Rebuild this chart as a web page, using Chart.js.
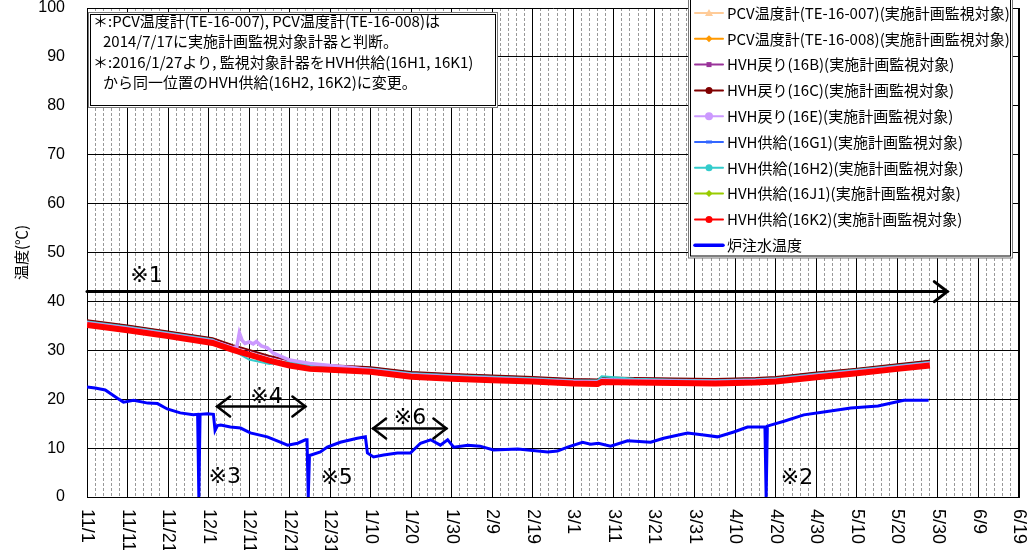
<!DOCTYPE html>
<html>
<head>
<meta charset="utf-8">
<title>温度</title>
<script src="https://cdn.jsdelivr.net/npm/chart.js"></script>
<style>
html, body { margin: 0; padding: 0; background: #fff; overflow: hidden; }
#box { width: 1033px; height: 550px; }
</style>
</head>
<body>
<div id="box"><canvas id="tempChart" width="1033" height="550"></canvas></div>
<script>
// x axis : days counted from 11/1
const tickDays = [0, 10, 20, 30, 40, 50, 60, 70, 80, 90, 100, 110, 120, 130, 140, 150, 160, 170, 180, 190, 200, 210, 220, 230];
const tickLabels = ['11/1', '11/11', '11/21', '12/1', '12/11', '12/21', '12/31', '1/10', '1/20', '1/30', '2/9', '2/19',
  '3/1', '3/11', '3/21', '3/31', '4/10', '4/20', '4/30', '5/10', '5/20', '5/30', '6/9', '6/19'];

// HVH / PCV temperatures
const days = [0, 10, 20, 31, 36, 40, 45, 50, 55, 60, 70, 80, 90, 100, 110, 120, 126, 127, 135, 145, 155, 165, 170, 180, 190, 200, 208];
const pcv007 = [35.3, 34.2, 33.0, 31.6, 30.2, 29.2, 28.0, 27.0, 26.3, 26.1, 25.7, 24.7, 24.3, 24.0, 23.7, 23.3, 23.2, 23.6, 23.5, 23.4, 23.3, 23.5, 23.7, 24.6, 25.4, 26.3, 27.0];
const pcv008 = [35.4, 34.3, 33.1, 31.7, 30.3, 29.3, 28.1, 27.1, 26.4, 26.2, 25.8, 24.8, 24.4, 24.1, 23.8, 23.4, 23.3, 23.7, 23.6, 23.5, 23.4, 23.6, 23.8, 24.7, 25.5, 26.4, 27.1];
const hvh16B = [36.1, 35.0, 33.8, 32.4, 31.0, 30.0, 28.8, 27.8, 27.1, 26.9, 26.5, 25.5, 25.1, 24.8, 24.5, 24.1, 24.0, 24.4, 24.3, 24.2, 24.1, 24.3, 24.5, 25.4, 26.2, 27.1, 27.8];
const hvh16C = [36.2, 35.1, 33.9, 32.5, 31.1, 30.1, 28.9, 27.9, 27.2, 27.0, 26.6, 25.6, 25.2, 24.9, 24.6, 24.2, 24.1, 24.5, 24.4, 24.3, 24.2, 24.4, 24.6, 25.5, 26.3, 27.2, 27.9];
const hvh16G1 = [34.9, 33.8, 32.6, 31.2, 29.8, 28.8, 27.6, 26.6, 25.9, 25.7, 25.3, 24.3, 23.9, 23.6, 23.3, 22.9, 22.8, 23.2, 23.1, 23.0, 22.9, 23.1, 23.3, 24.2, 25.0, 25.9, 26.6];
const hvh16H2 = [35.9, 34.8, 33.6, 32.2, 30.0, 28.1, 27.2, 27.6, 26.9, 26.7, 26.3, 25.3, 24.9, 24.6, 24.3, 23.9, 23.8, 24.7, 24.2, 24.0, 23.9, 24.1, 24.3, 25.2, 26.0, 26.9, 27.6];
const hvh16J1 = [35.1, 34.0, 32.8, 31.4, 30.0, 29.0, 27.8, 26.8, 26.1, 25.9, 25.5, 24.5, 24.1, 23.8, 23.5, 23.1, 23.0, 23.4, 23.3, 23.2, 23.1, 23.3, 23.5, 24.4, 25.2, 26.1, 26.8];
const hvh16K2 = [35.2, 34.1, 32.9, 31.5, 30.1, 29.1, 27.9, 26.9, 26.2, 26.0, 25.6, 24.6, 24.2, 23.9, 23.6, 23.2, 23.1, 23.5, 23.4, 23.3, 23.2, 23.4, 23.6, 24.5, 25.3, 26.2, 26.9];

// 16E has its own sampling (spiky around 12/8)
const daysE = [0, 10, 20, 31, 36, 37, 37.6, 38.3, 39, 40, 41, 41.8, 43, 44.5, 46, 50, 55, 60, 65, 70, 80, 90, 100, 110, 120, 126, 127, 135, 145, 155, 165, 170, 180, 190, 200, 208];
const hvh16E = [35.6, 34.5, 33.3, 31.9, 30.5, 30.8, 33.6, 32.0, 31.4, 31.7, 31.3, 31.8, 30.9, 30.5, 29.4, 28.0, 27.3, 26.9, 26.5, 26.0, 25.0, 24.6, 24.3, 24.0, 23.6, 23.5, 23.9, 23.8, 23.7, 23.6, 23.8, 24.0, 24.9, 25.7, 26.6, 27.3];

// 炉注水温度
const waterDays = [0, 2, 4.5, 7.5, 9, 11.5, 15, 17.4, 19.8, 23, 26.2, 27.3, 27.6, 27.9, 29.7, 31.2, 31.6, 32.2, 33, 35.4,
  37.9, 40.3, 44.5, 47.7, 49.5, 52, 53.9, 54.3, 54.6, 54.9, 55.3, 57.6, 59.3, 62.5, 66.7, 68.7, 69.2, 70.7, 73.2, 76.6,
  79.8, 82.3, 84.8, 87.2, 89, 90.5, 94, 97, 100.3, 106.3, 113.7, 116.1, 118.6, 122.3, 124.3, 126.2, 129.2, 133.4, 139.1, 142.3,
  148.2, 152.2, 155.6, 159.6, 163, 167, 167.3, 167.6, 167.9, 168.7, 172, 176.9, 181.8, 188.5, 195.2, 201.6, 207.7];
const waterTemp = [22.5, 22.3, 21.9, 20.2, 19.4, 19.8, 19.2, 19.1, 18.0, 17.2, 16.8, 16.9, 0, 16.9, 17.0, 16.9, 13.6, 14.6, 14.7, 14.3,
  14.1, 13.1, 12.3, 11.2, 10.6, 11.0, 11.7, 11.7, 0, 8.5, 8.6, 9.2, 10.2, 11.2, 12.0, 12.3, 9.0, 8.2, 8.6, 9.0,
  9.0, 11.0, 11.7, 10.6, 11.7, 10.2, 10.6, 10.4, 9.6, 9.8, 9.2, 9.4, 10.2, 11.2, 10.8, 11.0, 10.4, 11.5, 11.2, 12.0,
  13.1, 12.7, 12.3, 13.3, 14.3, 14.3, 14.3, 0, 14.5, 14.7, 15.5, 16.8, 17.4, 18.2, 18.6, 19.8, 19.8];

// notes and arrows on the plot
const marks = [
  { text: '※1', day: 10.7, value: 45.2 },
  { text: '※2', day: 171.2, value: 3.9 },
  { text: '※3', day: 30, value: 4.1 },
  { text: '※4', day: 40.3, value: 20.4 },
  { text: '※5', day: 57.6, value: 3.9 },
  { text: '※6', day: 75.7, value: 16.2 }
];
const arrows = [
  { from: 0, to: 212.3, value: 42, both: false },
  { from: 32.1, to: 53.9, value: 18.5, both: true },
  { from: 70.6, to: 88.7, value: 14.0, both: true }
];
const noteLines = [
  '＊:PCV温度計(TE-16-007), PCV温度計(TE-16-008)は',
  '2014/7/17に実施計画監視対象計器と判断。',
  '＊:2016/1/27より, 監視対象計器をHVH供給(16H1, 16K1)',
  'から同一位置のHVH供給(16H2, 16K2)に変更。'
];

const CJK = '"Noto Sans CJK JP", sans-serif';

function pts(xs, ys) {
  return xs.map((d, i) => ({ x: d, y: ys[i] }));
}

function line(label, xs, ys, color, width, order, marker) {
  return {
    label: label,
    data: pts(xs, ys),
    borderColor: color,
    backgroundColor: color,
    borderWidth: width,
    pointRadius: 0,
    tension: 0,
    fill: false,
    order: order,
    marker: marker
  };
}

const datasets = [
  line('PCV温度計(TE-16-007)(実施計画監視対象)', days, pcv007, '#FFCC99', 1.5, 9, 'triangle'),
  line('PCV温度計(TE-16-008)(実施計画監視対象)', days, pcv008, '#FF9900', 1.5, 8, 'diamond'),
  line('HVH戻り(16B)(実施計画監視対象)', days, hvh16B, '#993399', 1.5, 5, 'square'),
  line('HVH戻り(16C)(実施計画監視対象)', days, hvh16C, '#800000', 1.5, 4, 'circle'),
  line('HVH戻り(16E)(実施計画監視対象)', daysE, hvh16E, '#CC99FF', 3.5, 2, 'bigcircle'),
  line('HVH供給(16G1)(実施計画監視対象)', days, hvh16G1, '#3366FF', 1.5, 7, 'dash'),
  line('HVH供給(16H2)(実施計画監視対象)', days, hvh16H2, '#33CCCC', 2, 3, 'circle'),
  line('HVH供給(16J1)(実施計画監視対象)', days, hvh16J1, '#99CC00', 1.5, 6, 'diamond'),
  line('HVH供給(16K2)(実施計画監視対象)', days, hvh16K2, '#FF0000', 6, 1, 'circle'),
  line('炉注水温度', waterDays, waterTemp, '#0000FF', 3, 0, null)
];

function drawMarker(ctx, style, x, y, color) {
  ctx.fillStyle = color;
  ctx.beginPath();
  if (style === 'triangle') {
    ctx.moveTo(x, y - 4); ctx.lineTo(x + 4, y + 3); ctx.lineTo(x - 4, y + 3); ctx.closePath();
  } else if (style === 'diamond') {
    ctx.moveTo(x, y - 3.5); ctx.lineTo(x + 3.5, y); ctx.lineTo(x, y + 3.5); ctx.lineTo(x - 3.5, y); ctx.closePath();
  } else if (style === 'square') {
    ctx.rect(x - 2.5, y - 2.5, 5, 5);
  } else if (style === 'circle') {
    ctx.arc(x, y, 3.5, 0, Math.PI * 2);
  } else if (style === 'bigcircle') {
    ctx.arc(x, y, 4, 0, Math.PI * 2);
  } else if (style === 'dash') {
    ctx.rect(x - 3, y - 1.5, 6, 3);
  }
  ctx.fill();
}

function drawArrowHead(ctx, x, y, dir) {
  ctx.beginPath();
  ctx.moveTo(x - dir * 13, y - 10);
  ctx.lineTo(x, y);
  ctx.lineTo(x - dir * 13, y + 10);
  ctx.stroke();
}

const overlay = {
  id: 'overlay',
  afterDraw(chart) {
    const ctx = chart.ctx;
    const xs = chart.scales.x;
    const ys = chart.scales.y;
    ctx.save();

    // x tick labels, turned clockwise
    ctx.fillStyle = '#000';
    ctx.font = '18px "Liberation Sans", Arial, sans-serif';
    ctx.textAlign = 'left';
    ctx.textBaseline = 'middle';
    tickDays.forEach((d, i) => {
      ctx.save();
      ctx.translate(xs.getPixelForValue(d), ys.bottom + 12);
      ctx.rotate(Math.PI / 2);
      ctx.fillText(tickLabels[i], 0, 0);
      ctx.restore();
    });

    // arrows
    ctx.strokeStyle = '#000';
    ctx.lineCap = 'round';
    arrows.forEach((a, i) => {
      const x1 = xs.getPixelForValue(a.from);
      const x2 = xs.getPixelForValue(a.to);
      const yy = ys.getPixelForValue(a.value);
      ctx.lineWidth = i === 0 ? 3 : 2.5;
      ctx.beginPath();
      ctx.moveTo(x1, yy);
      ctx.lineTo(x2, yy);
      ctx.stroke();
      drawArrowHead(ctx, x2, yy, 1);
      if (a.both) drawArrowHead(ctx, x1, yy, -1);
    });

    // ※ notes
    ctx.fillStyle = '#000';
    ctx.font = '22px "DejaVu Sans", "Noto Sans CJK JP", sans-serif';
    ctx.textAlign = 'left';
    ctx.textBaseline = 'middle';
    marks.forEach(m => {
      ctx.fillText(m.text, xs.getPixelForValue(m.day), ys.getPixelForValue(m.value));
    });

    // comment box
    ctx.fillStyle = '#fff';
    ctx.fillRect(88, 12, 409, 95);
    ctx.lineWidth = 1;
    ctx.strokeStyle = '#777';
    ctx.strokeRect(88.5, 12.5, 409, 95);
    ctx.strokeStyle = '#000';
    ctx.strokeRect(90.5, 14.5, 405, 91);
    ctx.fillStyle = '#000';
    ctx.font = '15px ' + CJK;
    ctx.textBaseline = 'middle';
    noteLines.forEach((t, i) => {
      ctx.fillText(t, i % 2 === 0 ? 93 : 103, 21 + i * 20.5);
    });

    // legend box
    ctx.fillStyle = '#fff';
    ctx.fillRect(688, -5, 325, 263);
    ctx.strokeStyle = '#777';
    ctx.strokeRect(688.5, -5, 324, 263);
    ctx.strokeStyle = '#000';
    ctx.strokeRect(690.5, -5, 320, 261);
    ctx.font = '15px ' + CJK;
    chart.data.datasets.forEach((ds, i) => {
      const yy = 13 + i * 25.8;
      ctx.strokeStyle = ds.borderColor;
      ctx.lineWidth = ds.marker ? 2 : 3.5;
      ctx.beginPath();
      ctx.moveTo(695, yy);
      ctx.lineTo(723, yy);
      ctx.stroke();
      if (ds.marker) drawMarker(ctx, ds.marker, 709, yy, ds.borderColor);
      ctx.fillStyle = '#000';
      ctx.fillText(ds.label, 727, yy);
    });

    ctx.restore();
  }
};

new Chart(document.getElementById('tempChart'), {
  type: 'line',
  data: { datasets: datasets },
  options: {
    responsive: false,
    animation: false,
    devicePixelRatio: 1,
    layout: { padding: { top: 8, right: 14, left: 0, bottom: 0 } },
    plugins: {
      legend: { display: false },
      tooltip: { enabled: false }
    },
    scales: {
      x: {
        type: 'linear',
        min: 0,
        max: 230,
        afterFit: s => { s.height = 53; s.paddingLeft = 0; s.paddingRight = 0; },
        ticks: { stepSize: 2, maxTicksLimit: 1000, autoSkip: false, display: false },
        grid: {
          drawTicks: false,
          color: c => (c.tick && c.tick.value % 10 === 0) ? '#000' : '#999',
          lineWidth: c => (c.tick && c.tick.value === 230) ? 2 : 1
        },
        border: {
          color: '#000',
          dash: c => (c.tick && c.tick.value % 10 !== 0) ? [3, 2] : []
        }
      },
      y: {
        min: 0,
        max: 100,
        afterFit: s => { s.width = 87; s.paddingTop = 0; s.paddingBottom = 0; },
        ticks: {
          stepSize: 10,
          padding: 22,
          color: '#000',
          font: { size: 16, family: '"Liberation Sans", Arial, sans-serif' }
        },
        grid: { drawTicks: false, color: '#000' },
        border: { color: '#000' },
        title: {
          display: true,
          text: '温度(℃)',
          color: '#000',
          padding: { top: 12, bottom: 0 },
          font: { size: 15, family: CJK }
        }
      }
    }
  },
  plugins: [overlay]
});
</script>
</body>
</html>
